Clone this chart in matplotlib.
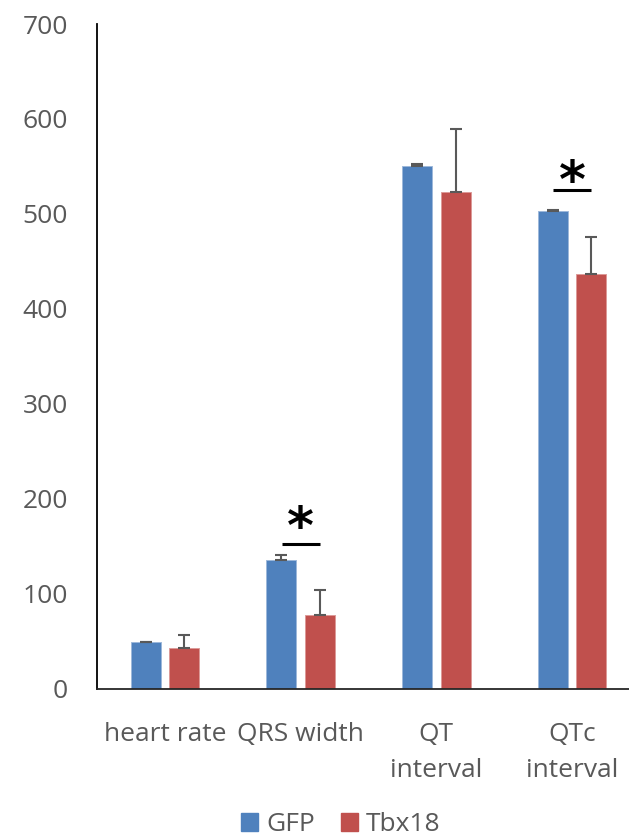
import numpy as np
import matplotlib.pyplot as plt
from matplotlib.patches import Patch

# ECG parameters, GFP vs Tbx18 (mean and upper error)
categories = ["heart rate", "QRS width", "QT\ninterval", "QTc\ninterval"]
gfp_mean = [48.7, 135.5, 550.8, 502.6]
gfp_err = [0.8, 5.5, 1.8, 1.8]
tbx_mean = [42.4, 77.5, 523.0, 437.0]
tbx_err = [14.0, 26.3, 66.5, 38.6]

# significance marks: category index, height of the line, height of the star
sig_idx = [1, 3]
sig_line = [152, 525]
sig_star = [168, 532]

blue = "#4F81BD"
red = "#C0504D"
grey = "#595959"

plt.rcParams["font.family"] = ["Open Sans", "DejaVu Sans"]

fig = plt.figure(figsize=(6.29, 8.39), dpi=100)
ax = fig.add_axes([97 / 629, 1 - 688.5 / 839, 543 / 629, (688.5 - 24) / 839])

x = np.arange(len(categories))
off = 0.142
w = 0.221

ax.bar(x - off, gfp_mean, w, color=blue, edgecolor="#9db8da", linewidth=0.7, label="GFP", zorder=2)
ax.bar(x + off, tbx_mean, w, color=red, edgecolor="#dc9a98", linewidth=0.7, label="Tbx18", zorder=2)

ax.errorbar(x - off, gfp_mean, yerr=[np.zeros(4), gfp_err], fmt="none",
            ecolor=grey, elinewidth=1.5, capsize=4, capthick=1.5, zorder=3)
ax.errorbar(x + off, tbx_mean, yerr=[np.zeros(4), tbx_err], fmt="none",
            ecolor=grey, elinewidth=1.5, capsize=4, capthick=1.5, zorder=3)

for i, yl, ys in zip(sig_idx, sig_line, sig_star):
    ax.plot([i - 0.14, i + 0.14], [yl, yl], color="black", lw=2.2, solid_capstyle="butt")
    ax.text(i, ys, "*", ha="center", va="center", fontsize=37,
            fontweight="bold", family="DejaVu Sans", color="black")

ax.set_xlim(-0.5, 3.5)
ax.set_ylim(0, 700)
ax.set_yticks(range(0, 701, 100))
ax.set_xticks(x)
ax.set_xticklabels(categories, linespacing=1.6)

ax.tick_params(axis="y", length=0, pad=21, labelsize=19, labelcolor=grey)
ax.tick_params(axis="x", length=0, pad=24, labelsize=19, labelcolor=grey)

for s in ["top", "right"]:
    ax.spines[s].set_visible(False)
ax.spines["left"].set_color("black")
ax.spines["left"].set_linewidth(1.3)
ax.spines["bottom"].set_color("#262626")
ax.spines["bottom"].set_linewidth(1.3)

handles = [Patch(color=blue), Patch(color=red)]
fig.legend(handles, ["GFP", "Tbx18"], loc="center", bbox_to_anchor=(0.542, 0.017),
           ncol=2, frameon=False, fontsize=19, labelcolor=grey,
           handlelength=0.65, handleheight=0.65, handletextpad=0.3, columnspacing=1.0)

fig.savefig("out.png", dpi=100)
